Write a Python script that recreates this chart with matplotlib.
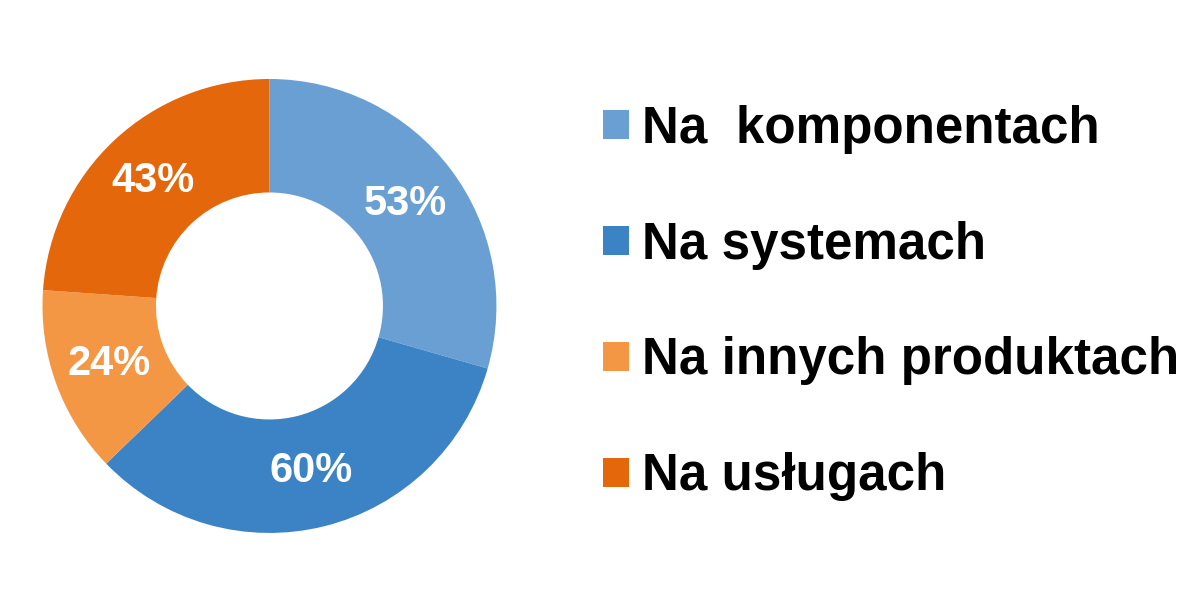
import matplotlib
matplotlib.use("Agg")
import matplotlib.pyplot as plt

# ── Data ──────────────────────────────────────────────────────────────────────
categories = ["Na  komponentach", "Na systemach", "Na innych produktach", "Na usługach"]
values     = [53, 60, 24, 43]
colors     = ["#6a9fd3", "#3b83c4", "#f39745", "#e5670c"]

plt.rcParams["font.family"] = ["Liberation Sans", "DejaVu Sans"]

fig = plt.figure(figsize=(12, 6), dpi=100)
ax = fig.add_axes([0.0354, 0.1117, 0.3783, 0.7567])

total = sum(values)
wedges, _, autotexts = ax.pie(
    values,
    colors=colors,
    startangle=90,
    counterclock=False,
    radius=1.0,
    wedgeprops=dict(width=0.5, edgecolor="none"),
    autopct=lambda p: f"{round(p * total / 100)}%",
    pctdistance=0.75,
    textprops=dict(color="white", fontsize=30, fontweight="bold"),
)
ax.set_xlim(-1, 1)
ax.set_ylim(-1, 1)
ax.set_aspect("equal")
ax.axis("off")

leg = fig.legend(
    wedges, categories,
    loc="center left",
    bbox_to_anchor=(0.4645, 0.495),
    frameon=False,
    prop=dict(family=["Liberation Sans", "DejaVu Sans"], weight="bold", size=36.8),
    handlelength=0.51,
    handleheight=0.51,
    handletextpad=0.24,
    labelspacing=1.31,
    borderpad=0.4,
)

fig.savefig("out.png", dpi=100)
